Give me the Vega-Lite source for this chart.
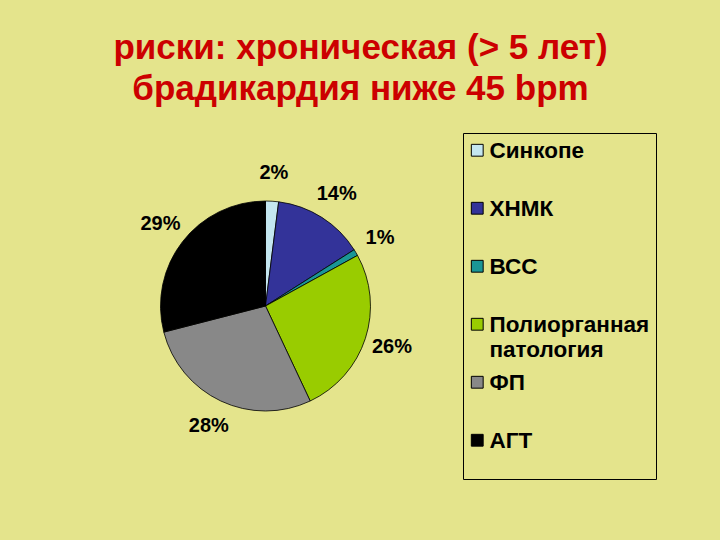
{
  "$schema": "https://vega.github.io/schema/vega-lite/v6.json",
  "width": 215,
  "height": 208,
  "autosize": {"type": "none"},
  "padding": {"left": 158, "top": 202, "right": 347, "bottom": 130},
  "background": "#e4e48c",
  "title": {
    "text": ["риски: хроническая (> 5 лет)", "брадикардия ниже 45 bpm"],
    "color": "#cc0000",
    "font": "Liberation Sans",
    "fontSize": 35,
    "fontWeight": "bold",
    "lineHeight": 41,
    "anchor": "middle",
    "frame": "group",
    "baseline": "bottom",
    "dx": 95,
    "offset": -9
  },
  "data": {
    "values": [
      {"cat": "Синкопе", "share": 0.02},
      {"cat": "ХНМК", "share": 0.14},
      {"cat": "ВСС", "share": 0.01},
      {"cat": "Полиорганная патология", "share": 0.26},
      {"cat": "ФП", "share": 0.28},
      {"cat": "АГТ", "share": 0.29}
    ]
  },
  "transform": [
    {"window": [{"op": "row_number", "as": "slice_order"}]}
  ],
  "encoding": {
    "theta": {"field": "share", "type": "quantitative", "stack": true},
    "order": {"field": "slice_order", "type": "quantitative", "sort": "ascending"}
  },
  "layer": [
    {
      "mark": {"type": "arc", "outerRadius": 105, "stroke": "#000", "strokeWidth": 0.8},
      "encoding": {
        "color": {
          "field": "cat",
          "type": "nominal",
          "sort": ["Синкопе", "ХНМК", "ВСС", "Полиорганная патология", "ФП", "АГТ"],
          "scale": {
            "domain": ["Синкопе", "ХНМК", "ВСС", "Полиорганная патология", "ФП", "АГТ"],
            "range": ["#c4e6f0", "#333399", "#1a9696", "#99cc00", "#888888", "#000000"]
          },
          "legend": {
            "title": " ",
            "titleOrient": "bottom",
            "titleFontSize": 14,
            "titlePadding": 6,
            "orient": "none",
            "legendX": 305,
            "legendY": -69,
            "direction": "vertical",
            "symbolType": "square",
            "symbolSize": 140,
            "symbolOffset": -3,
            "symbolStrokeColor": "#000",
            "symbolStrokeWidth": 1,
            "labelFont": "Liberation Sans",
            "labelFontSize": 22.5,
            "labelFontWeight": "bold",
            "labelColor": "#000",
            "labelLimit": 300,
            "labelOffset": 1,
            "labelBaseline": "alphabetic",
            "labelExpr": "datum.label == 'Полиорганная патология' ? ['Полиорганная', 'патология'] : datum.label",
            "strokeColor": "#000",
            "padding": 6,
            "rowPadding": 9,
            "gridAlign": "all",
            "encode": {"labels": {"update": {"dy": {"value": 8}, "lineHeight": {"value": 25}}}}
          }
        }
      }
    },
    {
      "mark": {"type": "text", "radius": 133, "font": "Liberation Sans", "fontSize": 20, "fontWeight": "bold"},
      "encoding": {
        "text": {"field": "share", "type": "quantitative", "format": ".0%"},
        "color": {
          "field": "cat",
          "type": "nominal",
          "scale": {"range": ["#000000"]},
          "legend": null
        }
      }
    }
  ],
  "resolve": {"scale": {"color": "independent"}},
  "config": {"view": {"stroke": "#000", "strokeWidth": 1}}
}
